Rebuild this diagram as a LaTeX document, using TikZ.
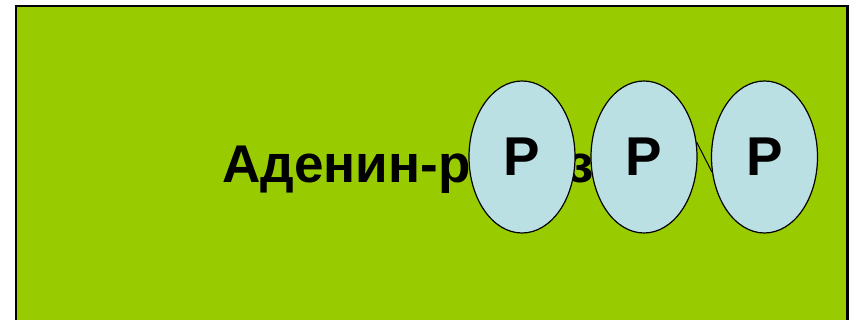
\documentclass[tikz,border=0pt]{standalone}
\usepackage{fontspec}
\setmainfont{Liberation Sans}
\usetikzlibrary{shapes.geometric}
\definecolor{leafgreen}{RGB}{153,204,0}
\definecolor{paleblue}{RGB}{187,224,227}

\begin{document}
\begin{tikzpicture}[x=0.75pt,y=0.75pt,yscale=-1,xscale=1,
  pball/.style={ellipse,draw=black,line width=0.9pt,fill=paleblue,minimum width=79.5pt,minimum height=114pt,inner sep=0pt,font=\fontsize{41}{41}\selectfont\bfseries},
  pbond/.style={draw=black,line width=0.75pt}]
\useasboundingbox (0,0) rectangle (855,320);
\begin{scope}
\clip (0,0) rectangle (855,320);
\draw [fill=leafgreen,line width=1.6pt] (16,6) rectangle (847.5,340);
\end{scope}
\node (base) [anchor=base west,inner sep=0pt,font=\fontsize{39.8}{39.8}\selectfont\bfseries] at (222,183) {Аденин-рибоза};
\node (p1) [pball] at (522,157) {P};
\node (p2) [pball] at (644,157) {P};
\node (p3) [pball] at (764.5,157) {P};
\draw [pbond] (p2.16) -- (p3.196);
\end{tikzpicture}
\end{document}
